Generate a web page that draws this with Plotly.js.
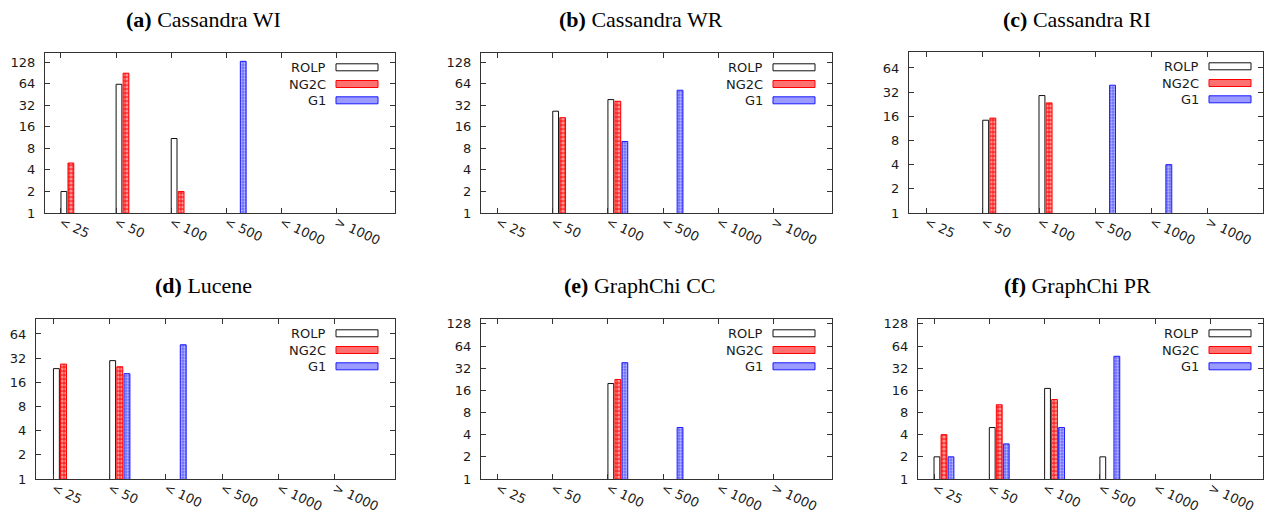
<!DOCTYPE html>
<html>
<head>
<meta charset="utf-8">
<script src="https://cdn.plot.ly/plotly-3.0.1.min.js"></script>
<style>html,body{margin:0;padding:0;background:#fff;}#chart{width:1270px;height:516px;}</style>
</head>
<body>
<div id="chart"></div>
<script>
// ---- data ----
const categories = ['< 25', '< 50', '< 100', '< 500', '< 1000', '> 1000'];
const seriesNames = ['ROLP', 'NG2C', 'G1'];
const yTickValues = [1, 2, 4, 8, 16, 32, 64, 128];

const panelTitles = ['(a)|Cassandra WI', '(b)|Cassandra WR', '(c)|Cassandra RI', '(d)|Lucene', '(e)|GraphChi CC', '(f)|GraphChi PR'];

const wiROLP = [2, 63, 11, null, null, null];
const wiNG2C = [5, 90, 2, null, null, null];
const wiG1   = [null, null, null, 132, null, null];

const wrROLP = [null, 26.5, 38.5, null, null, null];
const wrNG2C = [null, 21.5, 36.5, null, null, null];
const wrG1   = [null, null, 10, 52, null, null];

const riROLP = [null, 14.3, 29, null, null, null];
const riNG2C = [null, 15.2, 23.5, null, null, null];
const riG1   = [null, null, null, 39, 4, null];

const luROLP = [23.7, 29.8, null, null, null, null];
const luNG2C = [27, 25, null, null, null, null];
const luG1   = [null, 20.5, 47, null, null, null];

const ccROLP = [null, null, 19.8, null, null, null];
const ccNG2C = [null, null, 22.5, null, null, null];
const ccG1   = [null, null, 38, 5, null, null];

const prROLP = [2, 5, 17, 2, null, null];
const prNG2C = [4, 10.2, 12, null, null, null];
const prG1   = [2, 3, 5, 46.5, null, null];

const panelData = [
  [wiROLP, wiNG2C, wiG1],
  [wrROLP, wrNG2C, wrG1],
  [riROLP, riNG2C, riG1],
  [luROLP, luNG2C, luG1],
  [ccROLP, ccNG2C, ccG1],
  [prROLP, prNG2C, prG1]
];

// ---- layout geometry (pixels) ----
const W = 1270, H = 516;
const panels = [
  {x0: 45,  x1: 395,  y0: 53,  y1: 213, xr: [-0.29, 6.06], ytop: 7.43, legPad: 17, tx: 203,  ty: 20},
  {x0: 481, x1: 832,  y0: 53,  y1: 213, xr: [-0.30, 6.06], ytop: 7.43, legPad: 17, tx: 641,  ty: 20},
  {x0: 909, x1: 1263, y0: 52,  y1: 213, xr: [-0.31, 5.98], ytop: 6.66, legPad: 12, tx: 1077, ty: 20},
  {x0: 36,  x1: 395,  y0: 319, y1: 479, xr: [-0.31, 6.07], ytop: 6.62, legPad: 17, tx: 203,  ty: 285},
  {x0: 481, x1: 832,  y0: 319, y1: 479, xr: [-0.30, 6.06], ytop: 7.22, legPad: 17, tx: 640,  ty: 285},
  {x0: 918, x1: 1263, y0: 319, y1: 479, xr: [-0.29, 5.95], ytop: 7.22, legPad: 12, tx: 1077, ty: 285}
];

const px = x => x / W;
const py = y => 1 - y / H;

const barWidth = 0.105;
const barOffsets = [0.0, 0.127, 0.254];
const styles = [
  {color: '#ffffff', line: '#111111', pattern: null, swatch: '#ffffff'},
  {color: '#ff2a2a', line: '#ff0000', pattern: {shape: '.', fgcolor: '#ffffff', size: 4, solidity: 0.5, fillmode: 'overlay'}, swatch: '#ff7070'},
  {color: '#6a6aff', line: '#1a1aff', pattern: {shape: '.', fgcolor: '#ffffff', size: 3, solidity: 0.45, fillmode: 'overlay'}, swatch: '#9a9aff'}
];

const xs = categories.map((_, i) => i);
const tickText = categories.map(s => s.replace('<', '&lt;').replace('>', '&gt;'));
const tickFont = {family: 'DejaVu Sans', size: 13, color: '#1a1a1a'};

const traces = [];
const layout = {
  width: W, height: H,
  margin: {l: 0, r: 0, t: 0, b: 0},
  paper_bgcolor: '#ffffff', plot_bgcolor: '#ffffff',
  showlegend: false,
  barmode: 'overlay',
  annotations: [], shapes: []
};

panels.forEach((p, k) => {
  const n = k + 1;
  const xa = n === 1 ? 'x' : 'x' + n;
  const ya = n === 1 ? 'y' : 'y' + n;
  const xkey = n === 1 ? 'xaxis' : 'xaxis' + n;
  const ykey = n === 1 ? 'yaxis' : 'yaxis' + n;
  const ymax = Math.pow(2, p.ytop);
  const yvals = yTickValues.filter(v => v <= ymax);

  layout[xkey] = {
    domain: [px(p.x0), px(p.x1)], anchor: ya,
    range: p.xr, tickvals: xs, ticktext: tickText,
    tickangle: 25, ticks: 'inside', ticklen: 5, tickcolor: '#333',
    showline: true, linecolor: '#333', linewidth: 1, mirror: 'ticks',
    showgrid: false, zeroline: false, tickfont: tickFont, ticklabelstandoff: -4
  };
  layout[ykey] = {
    domain: [py(p.y1), py(p.y0)], anchor: xa, type: 'log',
    range: [0, p.ytop * Math.LOG10E * Math.LN2],
    tickvals: yvals, ticktext: yvals.map(String),
    ticks: 'inside', ticklen: 5, tickcolor: '#333',
    showline: true, linecolor: '#333', linewidth: 1, mirror: 'ticks',
    showgrid: false, zeroline: false, tickfont: tickFont, ticklabelstandoff: 6
  };

  panelData[k].forEach((vals, s) => {
    const st = styles[s];
    const marker = {color: st.color, line: {color: st.line, width: 1}};
    if (st.pattern) marker.pattern = st.pattern;
    traces.push({
      type: 'bar', x: xs, y: vals, name: seriesNames[s],
      xaxis: xa, yaxis: ya, width: barWidth, offset: barOffsets[s],
      marker: marker, hoverinfo: 'skip'
    });
  });

  // title
  const parts = panelTitles[k].split('|');
  layout.annotations.push({
    xref: 'paper', yref: 'paper', x: px(p.tx), y: py(p.ty),
    xanchor: 'center', yanchor: 'middle', showarrow: false,
    text: '<b>' + parts[0] + '</b> ' + parts[1],
    font: {family: 'Liberation Serif', size: 22, color: '#000'}
  });

  // legend (text left of swatch)
  const swR = p.x1 - p.legPad, swL = swR - 42;
  const rowOff = [14.3, 31, 47.3];
  seriesNames.forEach((nm, s) => {
    const cy = p.y0 + rowOff[s];
    layout.shapes.push({
      type: 'rect', xref: 'paper', yref: 'paper',
      x0: px(swL), x1: px(swR), y0: py(cy + 3.5), y1: py(cy - 3.5),
      fillcolor: styles[s].swatch, line: {color: styles[s].line, width: 1}
    });
    layout.annotations.push({
      xref: 'paper', yref: 'paper', x: px(swL - 8), y: py(cy),
      xanchor: 'right', yanchor: 'middle', showarrow: false,
      text: nm, font: tickFont
    });
  });
});

Plotly.newPlot('chart', traces, layout, {staticPlot: true, displayModeBar: false});
</script>
</body>
</html>
